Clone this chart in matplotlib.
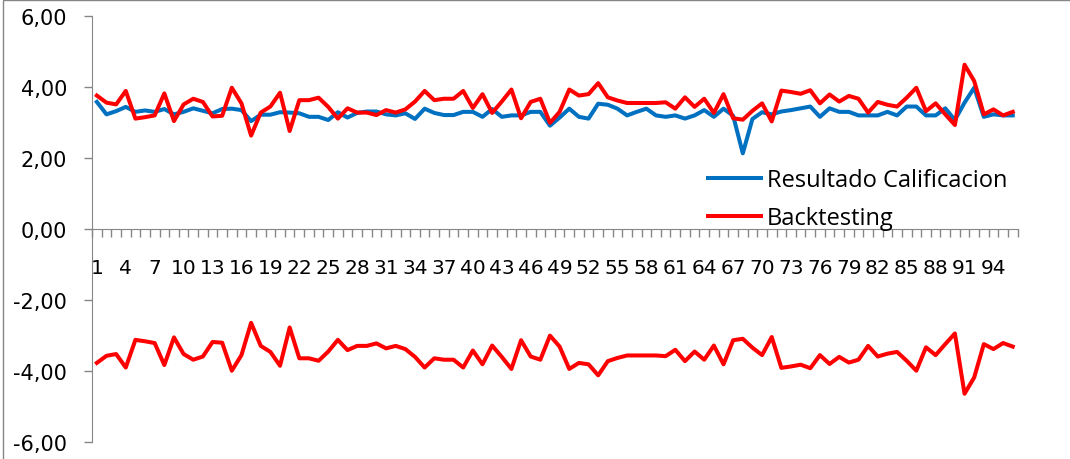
import matplotlib.pyplot as plt
import numpy as np

plt.rcParams['font.family'] = ['Open Sans', 'DejaVu Sans']

# values (96 periods)
periods = list(range(1, 97))

resultado_calificacion = [
    3.59, 3.24, 3.33, 3.45, 3.31, 3.35, 3.31, 3.39, 3.24, 3.31,
    3.41, 3.34, 3.27, 3.39, 3.40, 3.36, 3.05, 3.23, 3.23, 3.30,
    3.29, 3.27, 3.17, 3.17, 3.08, 3.30, 3.15, 3.28, 3.32, 3.32,
    3.24, 3.21, 3.27, 3.11, 3.40, 3.28, 3.22, 3.22, 3.31, 3.31,
    3.17, 3.39, 3.17, 3.21, 3.21, 3.31, 3.31, 2.92, 3.15, 3.40,
    3.17, 3.12, 3.54, 3.51, 3.40, 3.21, 3.31, 3.40, 3.21, 3.17,
    3.21, 3.12, 3.21, 3.36, 3.17, 3.40, 3.20, 2.14, 3.11, 3.30,
    3.24, 3.32, 3.36, 3.41, 3.46, 3.17, 3.41, 3.31, 3.31, 3.21,
    3.21, 3.21, 3.31, 3.21, 3.46, 3.46, 3.21, 3.21, 3.41, 3.08,
    3.57, 3.99, 3.17, 3.24, 3.21, 3.21,
]

backtesting = [
    3.77, 3.57, 3.52, 3.90, 3.12, 3.16, 3.21, 3.83, 3.05, 3.52,
    3.68, 3.59, 3.18, 3.20, 3.99, 3.55, 2.64, 3.29, 3.46, 3.85,
    2.77, 3.64, 3.64, 3.71, 3.45, 3.12, 3.41, 3.29, 3.29, 3.22,
    3.36, 3.29, 3.38, 3.60, 3.90, 3.64, 3.68, 3.68, 3.90, 3.42,
    3.81, 3.28, 3.60, 3.94, 3.13, 3.59, 3.68, 3.00, 3.31, 3.94,
    3.77, 3.81, 4.12, 3.72, 3.63, 3.56, 3.56, 3.56, 3.56, 3.58,
    3.40, 3.72, 3.45, 3.68, 3.28, 3.81, 3.13, 3.09, 3.34, 3.55,
    3.04, 3.91, 3.87, 3.82, 3.92, 3.55, 3.80, 3.60, 3.76, 3.68,
    3.29, 3.59, 3.51, 3.46, 3.71, 3.99, 3.33, 3.55, 3.24, 2.94,
    4.64, 4.18, 3.24, 3.38, 3.21, 3.31,
]

backtesting_lower = [
    -3.77, -3.57, -3.52, -3.90, -3.12, -3.16, -3.21, -3.83, -3.05, -3.52,
    -3.68, -3.59, -3.18, -3.20, -3.99, -3.55, -2.64, -3.29, -3.46, -3.85,
    -2.77, -3.64, -3.64, -3.71, -3.45, -3.12, -3.41, -3.29, -3.29, -3.22,
    -3.36, -3.29, -3.38, -3.60, -3.90, -3.64, -3.68, -3.68, -3.90, -3.42,
    -3.81, -3.28, -3.60, -3.94, -3.13, -3.59, -3.68, -3.00, -3.31, -3.94,
    -3.77, -3.81, -4.12, -3.72, -3.63, -3.56, -3.56, -3.56, -3.56, -3.58,
    -3.40, -3.72, -3.45, -3.68, -3.28, -3.81, -3.13, -3.09, -3.34, -3.55,
    -3.04, -3.91, -3.87, -3.82, -3.92, -3.55, -3.80, -3.60, -3.76, -3.68,
    -3.29, -3.59, -3.51, -3.46, -3.71, -3.99, -3.33, -3.55, -3.24, -2.94,
    -4.64, -4.18, -3.24, -3.38, -3.21, -3.31,
]

y_ticks = [-6, -4, -2, 0, 2, 4, 6]
x_labels = periods[::3]

grey = '#868686'

fig = plt.figure(figsize=(10.7, 4.6), dpi=100)
ax = fig.add_axes([0.086, 0.037, 0.865, 0.925])

ax.plot(periods, resultado_calificacion, color='#0070C0', lw=2.9, label='Resultado Calificacion')
ax.plot(periods, backtesting, color='#FF0000', lw=2.9, label='Backtesting')
ax.plot(periods, backtesting_lower, color='#FF0000', lw=2.9)

ax.set_xlim(0.5, 96.5)
ax.set_ylim(-6, 6)

# excel style axes: vertical axis on the left, category axis through zero
for s in ['top', 'right']:
    ax.spines[s].set_visible(False)
ax.spines['left'].set_color(grey)
ax.spines['bottom'].set_color(grey)
ax.spines['bottom'].set_position(('data', 0))

ax.set_yticks(y_ticks)
ax.set_yticklabels(['{:.2f}'.format(v).replace('.', ',') for v in y_ticks],
                   fontfamily='DejaVu Sans', fontsize=15)
ax.tick_params(axis='y', direction='out', length=6, color=grey, width=1, pad=12)

ax.set_xticks(x_labels)
ax.set_xticklabels([str(v) for v in x_labels], fontfamily='DejaVu Sans', fontsize=14.5)
ax.set_xticks(np.arange(0.5, 97, 1), minor=True)
ax.tick_params(axis='x', which='major', length=0, pad=20.5)
ax.tick_params(axis='x', which='minor', direction='out', length=6, color=grey, width=1)

ax.legend(loc='upper left', bbox_to_anchor=(708 / 1070, 1 - 169 / 460), bbox_transform=fig.transFigure,
          frameon=False, fontsize=17, handlelength=2.25, handletextpad=0.25,
          labelspacing=0.6, borderpad=0, borderaxespad=0)

# thin chart border
fig.patches.append(plt.Rectangle((3 / 1070, -0.05), 1.1, 1.05 - 1 / 460, transform=fig.transFigure,
                                 fill=False, edgecolor=grey, lw=1))

plt.savefig('out.png', dpi=100)
